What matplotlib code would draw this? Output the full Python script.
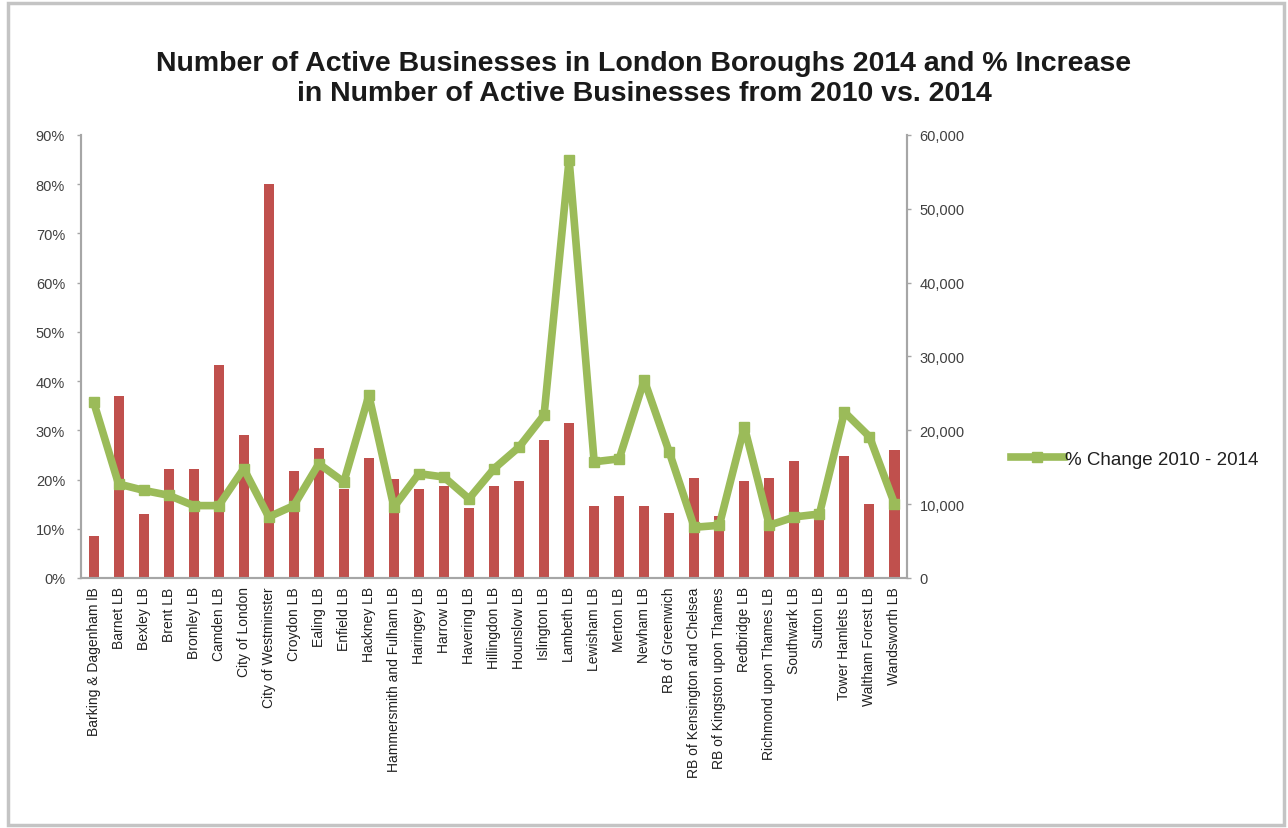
import matplotlib.pyplot as plt
from matplotlib.patches import Rectangle
from matplotlib.ticker import FuncFormatter

plt.rcParams['font.family'] = ['Liberation Sans', 'DejaVu Sans']

boroughs = [
    'Barking & Dagenham lB', 'Barnet LB', 'Bexley LB', 'Brent LB', 'Bromley LB',
    'Camden LB', 'City of London', 'City of Westminster', 'Croydon LB', 'Ealing LB',
    'Enfield LB', 'Hackney LB', 'Hammersmith and Fulham LB', 'Haringey LB',
    'Harrow LB', 'Havering LB', 'Hillingdon LB', 'Hounslow LB', 'Islington LB',
    'Lambeth LB', 'Lewisham LB', 'Merton LB', 'Newham LB', 'RB of Greenwich',
    'RB of Kensington and Chelsea', 'RB of Kingston upon Thames', 'Redbridge LB',
    'Richmond upon Thames LB', 'Southwark LB', 'Sutton LB', 'Tower Hamlets LB',
    'Waltham Forest LB', 'Wandsworth LB',
]

# active businesses 2014 (right axis)
businesses_2014 = [
    5700, 24700, 8600, 14800, 14800, 28900, 19300, 53300, 14500, 17600,
    12100, 16200, 13400, 12100, 12500, 9500, 12500, 13100, 18700, 21000,
    9700, 11100, 9700, 8800, 13600, 8400, 13100, 13600, 15900, 7800,
    16500, 10000, 17300,
]

# % change 2010 - 2014 (left axis)
pct_change = [
    35.8, 19.1, 17.8, 16.8, 14.7, 14.7, 22.2, 12.4, 14.7, 23.2,
    19.5, 37.1, 14.4, 21.2, 20.5, 16.1, 22.2, 26.6, 33.1, 85.0,
    23.6, 24.2, 40.2, 25.6, 10.3, 10.7, 30.7, 10.7, 12.4, 13.0,
    33.7, 28.7, 15.1,
]

bar_color = '#C0504D'
line_color = '#9BBB59'
tick_color = '#404040'
spine_color = '#A6A6A6'

fig = plt.figure(figsize=(12.88, 8.29), dpi=100)
ax = fig.add_axes([0.0629, 0.3016, 0.6413, 0.5344])
x = list(range(len(boroughs)))

ax.bar(x, businesses_2014, width=0.4, color=bar_color, zorder=2)
ax.set_ylim(0, 60000)
ax.set_xlim(-0.5, len(boroughs) - 0.5)
ax.set_yticks(range(0, 60001, 10000))
ax.yaxis.set_major_formatter(FuncFormatter(lambda v, p: f'{int(v):,}'))

# line on a twin axes so it sits above the bars, percent scale on the left
ax2 = ax.twinx()
ax.yaxis.tick_right()
ax2.yaxis.tick_left()
ax2.plot(x, pct_change, color=line_color, lw=5.5, marker='s', ms=7,
         solid_joinstyle='round', label='% Change 2010 - 2014', zorder=3)
ax2.set_ylim(0, 90)
ax2.set_yticks(range(0, 91, 10))
ax2.yaxis.set_major_formatter(FuncFormatter(lambda v, p: f'{int(v)}%'))

for a in (ax, ax2):
    a.spines['top'].set_visible(False)
    for s in ('left', 'right', 'bottom'):
        a.spines[s].set_color(spine_color)
        a.spines[s].set_linewidth(1.5)

ax.tick_params(axis='y', colors=tick_color, labelsize=10.5, length=3,
               width=1, pad=6)
ax.tick_params(axis='y', color=spine_color)
ax2.tick_params(axis='y', colors=tick_color, labelsize=10.5, length=3,
                width=1, pad=8.5)
ax2.tick_params(axis='y', color=spine_color)

ax.set_xticks(x)
ax.set_xticklabels(boroughs, rotation=90, fontsize=10, color='#202020')
ax.tick_params(axis='x', length=0, pad=6)

fig.text(0.5, 0.905, 'Number of Active Businesses in London Boroughs 2014 and % Increase\n'
         'in Number of Active Businesses from 2010 vs. 2014',
         ha='center', va='center', fontsize=20.5, fontweight='bold',
         linespacing=1.2, color='#1a1a1a')

fig.legend(loc='center left', bbox_to_anchor=(0.772, 0.445), frameon=False,
           fontsize=13.5, handlelength=2.8, handletextpad=0.05,
           labelcolor='#202020')

fig.patches.append(Rectangle((8 / 1288, 3 / 829), 1276 / 1288, 822 / 829,
                             transform=fig.transFigure, fill=False,
                             edgecolor='#C4C4C4', lw=2.5))

fig.savefig('out.png', dpi=100)
